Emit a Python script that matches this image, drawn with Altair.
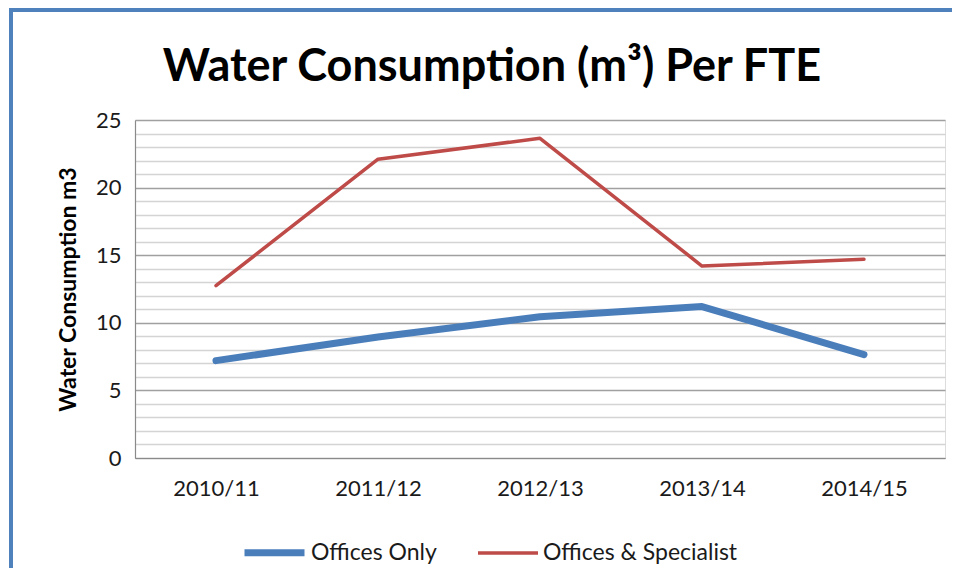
import altair as alt
import pandas as pd

years = ["2010/11", "2011/12", "2012/13", "2013/14", "2014/15"]
offices_only = [7.2, 8.95, 10.45, 11.2, 7.65]
offices_specialist = [12.75, 22.1, 23.65, 14.2, 14.7]
series_names = ["Offices Only", "Offices & Specialist"]
series_colors = ["#4a7ebb", "#be4b48"]
series_widths = [7, 3.5]
title_text = "Water Consumption (m³) Per FTE"

rows = []
for y, v in zip(years, offices_only):
    rows.append({"year": y, "series": series_names[0], "value": v})
for y, v in zip(years, offices_specialist):
    rows.append({"year": y, "series": series_names[1], "value": v})
df = pd.DataFrame(rows)

FONT = "Lato, 'Open Sans', sans-serif"

legend_cfg = dict(title=None, orient="none", direction="horizontal",
                  legendX=106, legendY=399,
                  symbolType="stroke", symbolSize=3600,
                  labelFont=FONT, labelFontSize=23, labelColor="#1a1a1a",
                  labelLimit=400, labelOffset=3, columnPadding=34)

lines = alt.Chart(df).mark_line(strokeCap="round", strokeJoin="round").encode(
    x=alt.X("year:O", sort=years,
            scale=alt.Scale(type="point", padding=0.5),
            axis=alt.Axis(title=None, labelAngle=0, ticks=False, grid=False,
                          domainColor="#8a8a8a", domainWidth=1.2,
                          labelFontSize=22, labelColor="#1a1a1a", labelFont=FONT,
                          labelPadding=20)),
    y=alt.Y("value:Q", scale=alt.Scale(domain=[0, 25], nice=False),
            axis=alt.Axis(title="Water Consumption m3", values=list(range(0, 26)),
                          labelExpr="datum.value % 5 === 0 ? datum.label : ''",
                          ticks=False, domainColor="#8a8a8a", domainWidth=1.2,
                          gridColor=alt.ConditionalAxisColor(
                              condition={"test": "datum.value % 5 === 0", "value": "#a0a0a0"},
                              value="#d4d4d4"),
                          gridWidth=1.3,
                          labelFontSize=22, labelColor="#1a1a1a", labelFont=FONT,
                          labelPadding=14, titleFont=FONT, titleFontSize=23,
                          titleFontWeight="bold", titleColor="#000000",
                          titlePadding=15)),
    color=alt.Color("series:N", sort=series_names,
                    scale=alt.Scale(domain=series_names, range=series_colors),
                    legend=alt.Legend(**legend_cfg)),
    strokeWidth=alt.StrokeWidth("series:N", sort=series_names,
                                scale=alt.Scale(domain=series_names, range=series_widths),
                                legend=alt.Legend(**legend_cfg)),
)

title_df = pd.DataFrame({"t": [title_text]})
title = alt.Chart(title_df).mark_text(font=FONT, fontSize=45, fontWeight="bold",
                                      color="#000000", align="center",
                                      baseline="alphabetic").encode(
    text="t:N", x=alt.value(357), y=alt.value(-39))

frame_left = alt.Chart(df).mark_rule(color="#4f81bd", strokeWidth=4).encode(
    x=alt.value(-124), y=alt.value(-110), y2=alt.value(470))
frame_top = alt.Chart(df).mark_rule(color="#4f81bd", strokeWidth=4).encode(
    x=alt.value(-126), x2=alt.value(830), y=alt.value(-110))

chart = alt.layer(frame_left, frame_top, title, lines).properties(
    width=810, height=338,
    autosize=alt.AutoSizeParams(type="none"),
    padding={"left": 127, "top": 112, "right": 7, "bottom": 110},
).configure_view(stroke=None).configure(background="white")

chart.save("out.html", embed_options={"renderer": "svg", "actions": False})
